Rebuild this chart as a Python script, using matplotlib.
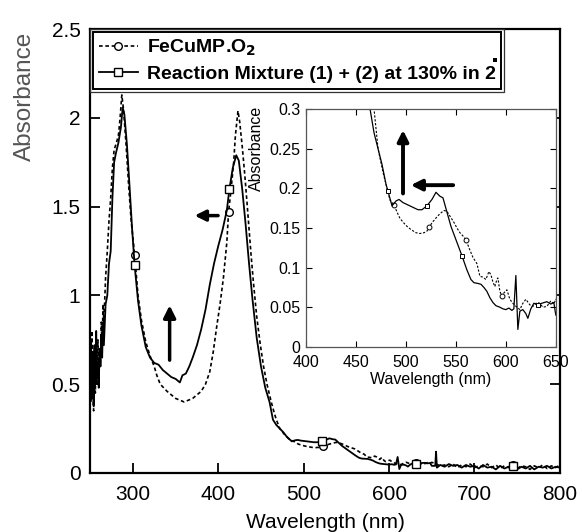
import matplotlib
matplotlib.use("Agg")
import matplotlib.pyplot as plt
from matplotlib.ticker import FuncFormatter
from matplotlib.patches import Rectangle

plt.rcParams['font.family'] = ['Liberation Sans', 'DejaVu Sans']

# ---- data: Reaction Mixture (1) + (2) at 130% in 2 (solid) ----
wl_mix = [250, 251, 252, 253, 254, 255, 256, 257, 258, 259,
          260, 261, 262, 263, 264, 265, 266, 268, 270, 272,
          274, 276, 278, 280, 283, 286, 288, 290, 293, 296,
          299, 302, 306, 310, 315, 320, 325, 330, 335, 340,
          345, 350, 355, 358, 362, 366, 370, 375, 380, 385,
          390, 395, 400, 405, 410, 413, 417, 421, 424, 428,
          432, 436, 440, 445, 450, 455, 460, 464, 468, 472,
          476, 480, 482, 486, 490, 493, 497, 502, 507, 512,
          516, 521, 526, 530, 534, 537, 541, 545, 550, 556,
          561, 565, 568, 572, 575, 578, 581, 584, 587, 590,
          594, 597, 600, 603, 606, 608, 610, 612, 614, 617,
          620, 622, 625, 628, 632, 636, 641, 645, 648, 650,
          654, 655, 656, 660, 665, 670, 675, 680, 685, 690,
          695, 700, 705, 710, 715, 720, 725, 730, 735, 740,
          745, 750, 755, 760, 765, 770, 775, 780, 785, 790,
          795, 800]
abs_mix = [0.55, 0.75, 0.42, 0.68, 0.38, 0.72, 0.50, 0.80, 0.55, 0.62,
           0.48, 0.70, 0.60, 0.78, 0.65, 0.85, 0.72, 0.95, 1.00, 1.18,
           1.25, 1.55, 1.75, 1.80, 1.86, 1.95, 2.06, 2.02, 1.85, 1.62,
           1.38, 1.17, 0.97, 0.83, 0.71, 0.65, 0.62, 0.61, 0.58, 0.56,
           0.54, 0.53, 0.51, 0.55, 0.56, 0.60, 0.65, 0.72, 0.81, 0.92,
           1.06, 1.18, 1.28, 1.37, 1.48, 1.60, 1.72, 1.79, 1.76, 1.60,
           1.40, 1.18, 0.98, 0.76, 0.60, 0.48, 0.40, 0.30, 0.27, 0.25,
           0.23, 0.205, 0.196, 0.178, 0.184, 0.186, 0.182, 0.179, 0.176, 0.173,
           0.173, 0.178, 0.186, 0.195, 0.190, 0.188, 0.170, 0.152, 0.135, 0.115,
           0.097, 0.085, 0.081, 0.080, 0.079, 0.075, 0.070, 0.062, 0.056, 0.052,
           0.050, 0.048, 0.047, 0.049, 0.046, 0.048, 0.090, 0.022, 0.045, 0.047,
           0.042, 0.036, 0.048, 0.055, 0.053, 0.055, 0.057, 0.054, 0.056, 0.040,
           0.040, 0.120, 0.030, 0.045, 0.035, 0.050, 0.040, 0.045, 0.030, 0.045,
           0.035, 0.040, 0.025, 0.045, 0.030, 0.035, 0.020, 0.040, 0.025, 0.035,
           0.040, 0.020, 0.035, 0.025, 0.040, 0.020, 0.035, 0.030, 0.040, 0.025,
           0.035, 0.030]

# ---- data: FeCuMP.O2 (dashed) ----
wl_fe = [250, 251, 252, 253, 254, 255, 256, 257, 258, 259,
         260, 261, 262, 263, 264, 265, 266, 268, 270, 272,
         274, 276, 278, 280, 283, 285, 287, 289, 292, 295,
         298, 302, 306, 310, 315, 320, 325, 328, 332, 336,
         340, 345, 350, 355, 360, 365, 370, 375, 380, 385,
         390, 394, 398, 402, 406, 410, 412, 415, 418, 420,
         423, 425, 428, 431, 434, 438, 441, 445, 449, 453,
         457, 462, 466, 468, 472, 477, 480, 484, 488, 491,
         494, 498, 501, 505, 510, 514, 518, 521, 523, 527,
         531, 534, 538, 541, 544, 548, 551, 554, 557, 560,
         564, 567, 571, 574, 577, 580, 583, 585, 587, 589,
         591, 592, 594, 596, 598, 601, 604, 607, 611, 614,
         617, 620, 624, 627, 631, 634, 637, 641, 645, 648,
         650, 655, 660, 665, 670, 675, 680, 685, 690, 695,
         700, 705, 710, 715, 720, 725, 730, 735, 740, 745,
         750, 755, 760, 765, 770, 775, 780, 785, 790, 795,
         800]
abs_fe = [0.60, 0.40, 0.80, 0.50, 0.35, 0.65, 0.45, 0.70, 0.50, 0.75,
          0.55, 0.68, 0.62, 0.85, 0.70, 0.95, 0.85, 1.10, 1.25, 1.42,
          1.55, 1.72, 1.82, 1.85, 1.90, 2.00, 2.13, 2.05, 1.85, 1.62,
          1.42, 1.23, 1.00, 0.86, 0.74, 0.66, 0.60, 0.55, 0.50, 0.48,
          0.46, 0.44, 0.42, 0.41, 0.40, 0.41, 0.42, 0.44, 0.46, 0.50,
          0.57, 0.68, 0.82, 0.95, 1.10, 1.30, 1.47, 1.60, 1.75, 1.90,
          2.04, 1.98, 1.84, 1.68, 1.50, 1.25, 1.08, 0.88, 0.73, 0.60,
          0.50, 0.40, 0.33, 0.30, 0.25, 0.22, 0.205, 0.185, 0.179, 0.170,
          0.162, 0.156, 0.152, 0.148, 0.144, 0.143, 0.144, 0.146, 0.151, 0.158,
          0.164, 0.168, 0.172, 0.171, 0.165, 0.157, 0.150, 0.144, 0.140, 0.135,
          0.122, 0.113, 0.105, 0.089, 0.088, 0.085, 0.095, 0.091, 0.082, 0.076,
          0.085, 0.087, 0.070, 0.064, 0.068, 0.072, 0.060, 0.055, 0.050, 0.047,
          0.055, 0.060, 0.053, 0.051, 0.056, 0.055, 0.050, 0.051, 0.058, 0.054,
          0.060, 0.050, 0.040, 0.045, 0.035, 0.050, 0.030, 0.045, 0.035, 0.050,
          0.030, 0.040, 0.035, 0.050, 0.030, 0.045, 0.025, 0.040, 0.030, 0.045,
          0.025, 0.040, 0.035, 0.020, 0.040, 0.030, 0.045, 0.025, 0.040, 0.030,
          0.045]

# marker wavelengths
mk_main_mix = [302, 413, 521, 632, 745]
mk_main_fe = [302, 412, 523, 631, 745]
mk_in_mix = [482, 521, 556, 632]
mk_in_fe = [488, 523, 560, 596]

label_fe = r'FeCuMP.O$_\mathbf{2}$'
label_mix = 'Reaction Mixture (1) + (2) at 130% in 2'

xticks_main = [300, 400, 500, 600, 700, 800]
yticks_main = [0, 0.5, 1, 1.5, 2, 2.5]
xticks_in = [400, 450, 500, 550, 600, 650]
yticks_in = [0, 0.05, 0.1, 0.15, 0.2, 0.25, 0.3]

fig = plt.figure(figsize=(5.82, 5.32), dpi=100)
ax = fig.add_axes([0.155, 0.111, 0.807, 0.834])

def idx(wl, marks):
    return [wl.index(m) for m in marks]

ax.plot(wl_fe, abs_fe, color='black', lw=1.2, ls=(0, (2.2, 1.6)),
        marker='o', ms=5.5, mfc='white', mec='black', mew=1.0,
        markevery=idx(wl_fe, mk_main_fe), label=label_fe)
ax.plot(wl_mix, abs_mix, color='black', lw=1.3, ls='-',
        marker='s', ms=6, mfc='white', mec='black', mew=1.0,
        markevery=idx(wl_mix, mk_main_mix), label=label_mix)

ax.set_xlim(250, 800)
ax.set_ylim(0, 2.5)
ax.set_xticks(xticks_main)
ax.set_yticks(yticks_main)
ax.yaxis.set_major_formatter(FuncFormatter(lambda v, p: '%g' % v))
ax.tick_params(axis='both', direction='in', length=7, width=1.3, labelsize=15,
               right=True, top=False)
ax.tick_params(axis='x', pad=9)
ax.tick_params(axis='y', pad=7)
for s in ax.spines.values():
    s.set_linewidth(1.6)
ax.set_xlabel('Wavelength (nm)', fontsize=15, labelpad=6)
ax.set_ylabel('Absorbance', fontsize=17.5, color='#555555')
ax.yaxis.set_label_coords(-0.115, 0.849)

leg = ax.legend(loc='upper left', bbox_to_anchor=(0.0, 1.0), borderaxespad=0.15,
                fancybox=False, edgecolor='black', framealpha=1,
                prop={'weight': 'bold', 'size': 14}, handlelength=2.0,
                handletextpad=0.45, labelspacing=0.35, borderpad=0.3)
leg.get_frame().set_linewidth(1.4)

# main arrows
ax.annotate('', xy=(343, 0.96), xytext=(343, 0.62),
            arrowprops=dict(arrowstyle='-|>', lw=2.5, color='black', mutation_scale=18))
ax.annotate('', xy=(369, 1.45), xytext=(403, 1.45),
            arrowprops=dict(arrowstyle='-|>', lw=2.5, color='black', mutation_scale=16))

# inset
axin = fig.add_axes([0.526, 0.348, 0.429, 0.447])
axin.set_facecolor('white')
axin.plot(wl_fe, abs_fe, color='black', lw=0.8, ls=(0, (2, 1.5)),
          marker='o', ms=3.5, mfc='white', mec='black', mew=0.7,
          markevery=idx(wl_fe, mk_in_fe))
axin.plot(wl_mix, abs_mix, color='black', lw=0.9, ls='-',
          marker='s', ms=3.5, mfc='white', mec='black', mew=0.7,
          markevery=idx(wl_mix, mk_in_mix))
axin.set_xlim(400, 650)
axin.set_ylim(0, 0.3)
axin.set_xticks(xticks_in)
axin.set_yticks(yticks_in)
axin.yaxis.set_major_formatter(FuncFormatter(lambda v, p: '%g' % v))
axin.tick_params(axis='both', direction='in', length=4, width=0.8, labelsize=11.5,
                 top=True, right=True)
axin.tick_params(axis='x', pad=6)
axin.tick_params(axis='y', pad=4)
for s in axin.spines.values():
    s.set_linewidth(0.9)
    s.set_color('#555555')
axin.set_xlabel('Wavelength (nm)', fontsize=11.5, labelpad=1)
axin.set_ylabel('Absorbance', fontsize=11.5)
axin.yaxis.set_label_coords(-0.168, 0.836)

axin.annotate('', xy=(497, 0.277), xytext=(497, 0.19),
              arrowprops=dict(arrowstyle='-|>', lw=2.8, color='black', mutation_scale=16))
axin.annotate('', xy=(502, 0.204), xytext=(550, 0.204),
              arrowprops=dict(arrowstyle='-|>', lw=2.8, color='black', mutation_scale=16))

# double border around legend and small mark at its corner
fig.canvas.draw()
bb = leg.get_window_extent().transformed(fig.transFigure.inverted())
pad_w = 3.0 / 582
pad_h = 3.0 / 532
fig.patches.append(Rectangle((bb.x0 - pad_w, bb.y0 - pad_h), bb.width + 2 * pad_w,
                             bb.height + 2 * pad_h, transform=fig.transFigure,
                             fill=False, edgecolor='#333333', lw=0.9, zorder=10))
fig.patches.append(Rectangle((bb.x1 - 8.0 / 582, bb.y0 + bb.height * 0.47), 4.0 / 582, 4.0 / 532,
                             transform=fig.transFigure, facecolor='black',
                             edgecolor='none', zorder=11))

fig.savefig('out.png', dpi=100)
